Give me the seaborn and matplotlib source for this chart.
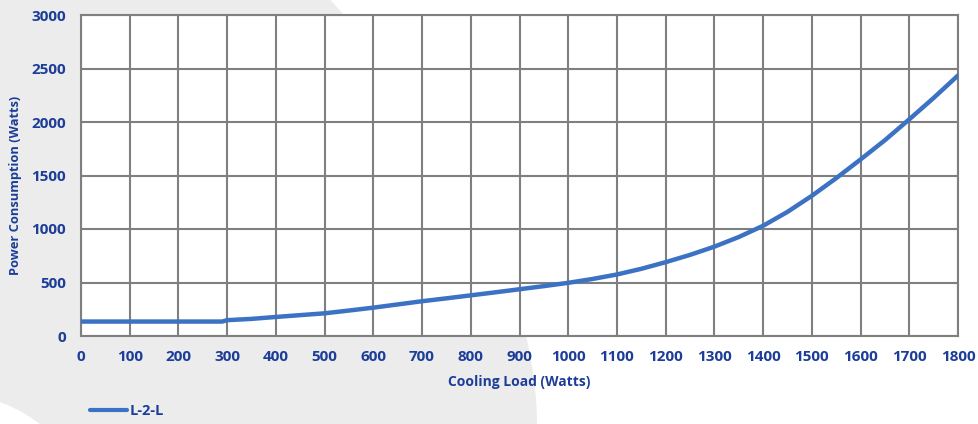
import matplotlib
matplotlib.use("Agg")
import matplotlib.pyplot as plt
from matplotlib.patches import Polygon
import numpy as np
import pandas as pd
import seaborn as sns

# values
cooling_load = [0, 100, 200, 290, 300, 350, 400, 450, 500, 550, 600, 650, 700, 750,
                800, 850, 900, 950, 1000, 1050, 1100, 1150, 1200, 1250, 1300, 1350,
                1400, 1450, 1500, 1550, 1600, 1650, 1700, 1750, 1800]
power_l2l = [135, 135, 135, 135, 148, 160, 178, 195, 212, 238, 265, 295, 325, 352,
             380, 408, 437, 466, 497, 533, 575, 628, 690, 758, 835, 925,
             1030, 1160, 1310, 1475, 1650, 1830, 2025, 2225, 2435]
series_name = "L-2-L"

x_ticks = list(range(0, 1801, 100))
y_ticks = list(range(0, 3001, 500))

text_color = "#1c3d98"
line_color = "#3b72c4"
grid_color = "#7f7f7f"
W, H = 979, 424

df = pd.DataFrame({"Cooling Load": cooling_load, "Power": power_l2l,
                   "series": series_name})

sns.set_style("white")
plt.rcParams["font.family"] = ["Open Sans", "DejaVu Sans"]
plt.rcParams["font.weight"] = "bold"

fig = plt.figure(figsize=(W / 100, H / 100), dpi=100)
fig.patch.set_facecolor("white")


def px(pts):
    # pixel coords (origin top-left) -> figure fraction
    return [(x / W, 1 - y / H) for x, y in pts]


# grey background sweep on the left
ys = np.linspace(0, H, 60)
edge = [(537 - 0.002523 * (H - y) ** 1.87, y) for y in ys]
grey = [(0, 0)] + edge + [(0, H)]
fig.patches.append(Polygon(px(grey), closed=True, transform=fig.transFigure,
                           facecolor="#ececec", edgecolor="none", zorder=-2))
# white arc in the bottom-left corner
arc = [(0, 402), (10, 406), (20, 411), (30, 417), (40, 424), (0, 424)]
fig.patches.append(Polygon(px(arc), closed=True, transform=fig.transFigure,
                           facecolor="white", edgecolor="none", zorder=-1))

ax = fig.add_axes([81 / W, (H - 336) / H, (958 - 81) / W, (336 - 15) / H])
ax.set_facecolor("white")

sns.lineplot(data=df, x="Cooling Load", y="Power", hue="series",
             palette=[line_color], linewidth=3.2, ax=ax, legend=False,
             zorder=3)

ax.set_xlim(0, 1800)
ax.set_ylim(0, 3000)
ax.set_xticks(x_ticks)
ax.set_yticks(y_ticks)
ax.grid(True, color=grid_color, linewidth=1.5)
ax.set_axisbelow(True)
for s in ax.spines.values():
    s.set_color(grid_color)
    s.set_linewidth(1.5)

ax.tick_params(axis="x", length=0, pad=10, labelsize=11, labelcolor=text_color)
ax.tick_params(axis="y", length=4, width=1.5, color=grid_color, pad=7,
               labelsize=11, labelcolor=text_color)
for lab in ax.get_xticklabels() + ax.get_yticklabels():
    lab.set_fontweight("bold")

ax.set_xlabel("Cooling Load (Watts)", fontsize=10, fontweight="bold",
              color=text_color, labelpad=8)
ax.set_ylabel("Power Consumption (Watts)", fontsize=9.3, fontweight="bold",
              color=text_color)
ax.yaxis.set_label_coords(-0.0673, 0.47)

h = [plt.Line2D([], [], color=line_color, linewidth=3)]
leg = fig.legend(h, [series_name], loc="center left",
                 bbox_to_anchor=(83 / W, 1 - 411 / H), frameon=False,
                 handlelength=2.5, handletextpad=0.2, borderpad=0,
                 prop={"weight": "bold", "size": 10.5})
for t in leg.get_texts():
    t.set_color(text_color)

fig.savefig("out.png", dpi=100)
